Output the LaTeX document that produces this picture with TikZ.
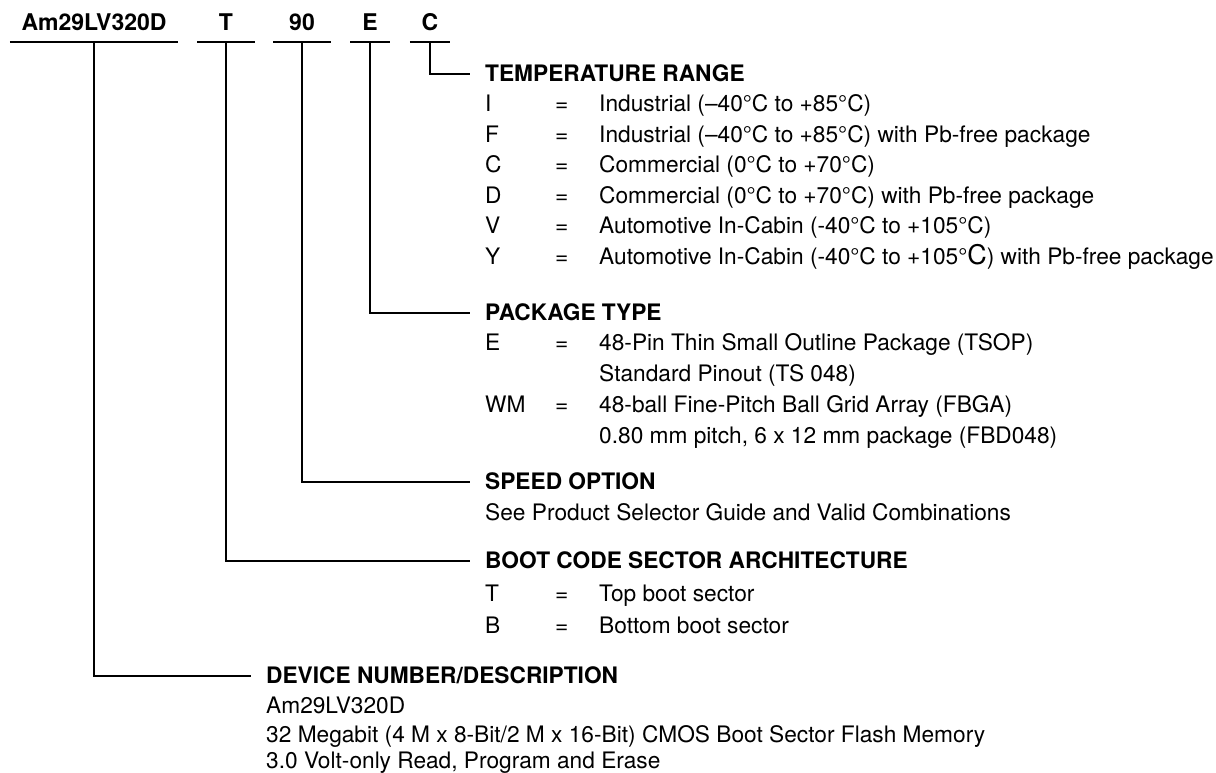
\documentclass[tikz,border=0pt]{standalone}
\usepackage{fontspec}
\setmainfont{TeX Gyre Heros}
\begin{document}
\begin{tikzpicture}[x=1pt,y=-1pt,
  txt/.style={inner sep=0pt, text height=15.5pt, text depth=0pt, anchor=west,
    font=\fontsize{22.7}{26}\selectfont},
  head/.style={txt, font=\fontsize{22.7}{26}\selectfont\bfseries},
  part/.style={inner sep=0pt, text height=16pt, text depth=11pt, anchor=base,
    font=\fontsize{23}{26}\selectfont\bfseries},
  rule/.style={line width=1.7pt},
  conn/.style={line width=1.7pt, shorten >=15pt}]
\useasboundingbox (0,0) rectangle (1216,773);
% part number fields
\node[part, minimum width=168pt] (am) at (94,31) {Am29LV320D};
\node[part, minimum width=57pt] (pt) at (226,31) {T};
\node[part, minimum width=57pt] (ps) at (302,31) {90};
\node[part, minimum width=39pt] (pe) at (370,31) {E};
\node[part, minimum width=40pt] (pc) at (430,31) {C};
\foreach \n in {am,pt,ps,pe,pc}
  \draw[rule] (\n.south west) -- (\n.south east);
% temperature range
\node[head] (htemp) at (485,74) {TEMPERATURE RANGE};
\node[txt] (t1) at (485,104) {I};
\node[txt] (t2) at (485,134.5) {F};
\node[txt] (t3) at (485,165) {C};
\node[txt] (t4) at (485,195.5) {D};
\node[txt] (t5) at (485,226) {V};
\node[txt] (t6) at (485,256.5) {Y};
\foreach \y in {104,134.5,165,195.5,226,256.5}
  \node[txt] at (555,\y) {=};
\node[txt] (d1) at (599,104) {Industrial (–40°C to +85°C)};
\node[txt] (d2) at (599,134.5) {Industrial (–40°C to +85°C) with Pb-free package};
\node[txt] (d3) at (599,165) {Commercial (0°C to +70°C)};
\node[txt] (d4) at (599,195.5) {Commercial (0°C to +70°C) with Pb-free package};
\node[txt] (d5) at (599,226) {Automotive In-Cabin (-40°C to +105°C)};
\node[txt] (d6) at (599,256.5) {Automotive In-Cabin (-40°C to +105°{\fontsize{27}{27}\selectfont C}) with Pb-free package};
% package type
\node[head] (hpkg) at (485,313) {PACKAGE TYPE};
\node[txt] (k1) at (485,343) {E};
\node[txt] at (555,343) {=};
\node[txt] (k1d) at (599,343) {48-Pin Thin Small Outline Package (TSOP)};
\node[txt] (k1e) at (599,374) {Standard Pinout (TS 048)};
\node[txt] (k2) at (485,405) {WM};
\node[txt] at (555,405) {=};
\node[txt] (k2d) at (599,405) {48-ball Fine-Pitch Ball Grid Array (FBGA)};
\node[txt] (k2e) at (599,436) {0.80 mm pitch, 6 x 12 mm package (FBD048)};
% speed option
\node[head] (hspd) at (485,482) {SPEED OPTION};
\node[txt] (s1) at (485,513) {See Product Selector Guide and Valid Combinations};
% boot code
\node[head] (hboot) at (485,561) {BOOT CODE SECTOR ARCHITECTURE};
\node[txt] (b1) at (485,594) {T};
\node[txt] at (555,594) {=};
\node[txt] (b1d) at (599,594) {Top boot sector};
\node[txt] (b2) at (485,625.5) {B};
\node[txt] at (555,625.5) {=};
\node[txt] (b2d) at (599,625.5) {Bottom boot sector};
% device
\node[head] (hdev) at (266,676) {DEVICE NUMBER/DESCRIPTION};
\node[txt] (v1) at (266,706) {Am29LV320D};
\node[txt] (v2) at (266,735) {32 Megabit (4 M x 8-Bit/2 M x 16-Bit) CMOS Boot Sector Flash Memory};
\node[txt] (v3) at (266,761) {3.0 Volt-only Read, Program and Erase};
% connectors
\draw[conn] (pc.south) |- (htemp.west);
\draw[conn] (pe.south) |- (hpkg.west);
\draw[conn] (ps.south) |- (hspd.west);
\draw[conn] (pt.south) |- (hboot.west);
\draw[conn] (am.south) |- (hdev.west);
\end{tikzpicture}
\end{document}
